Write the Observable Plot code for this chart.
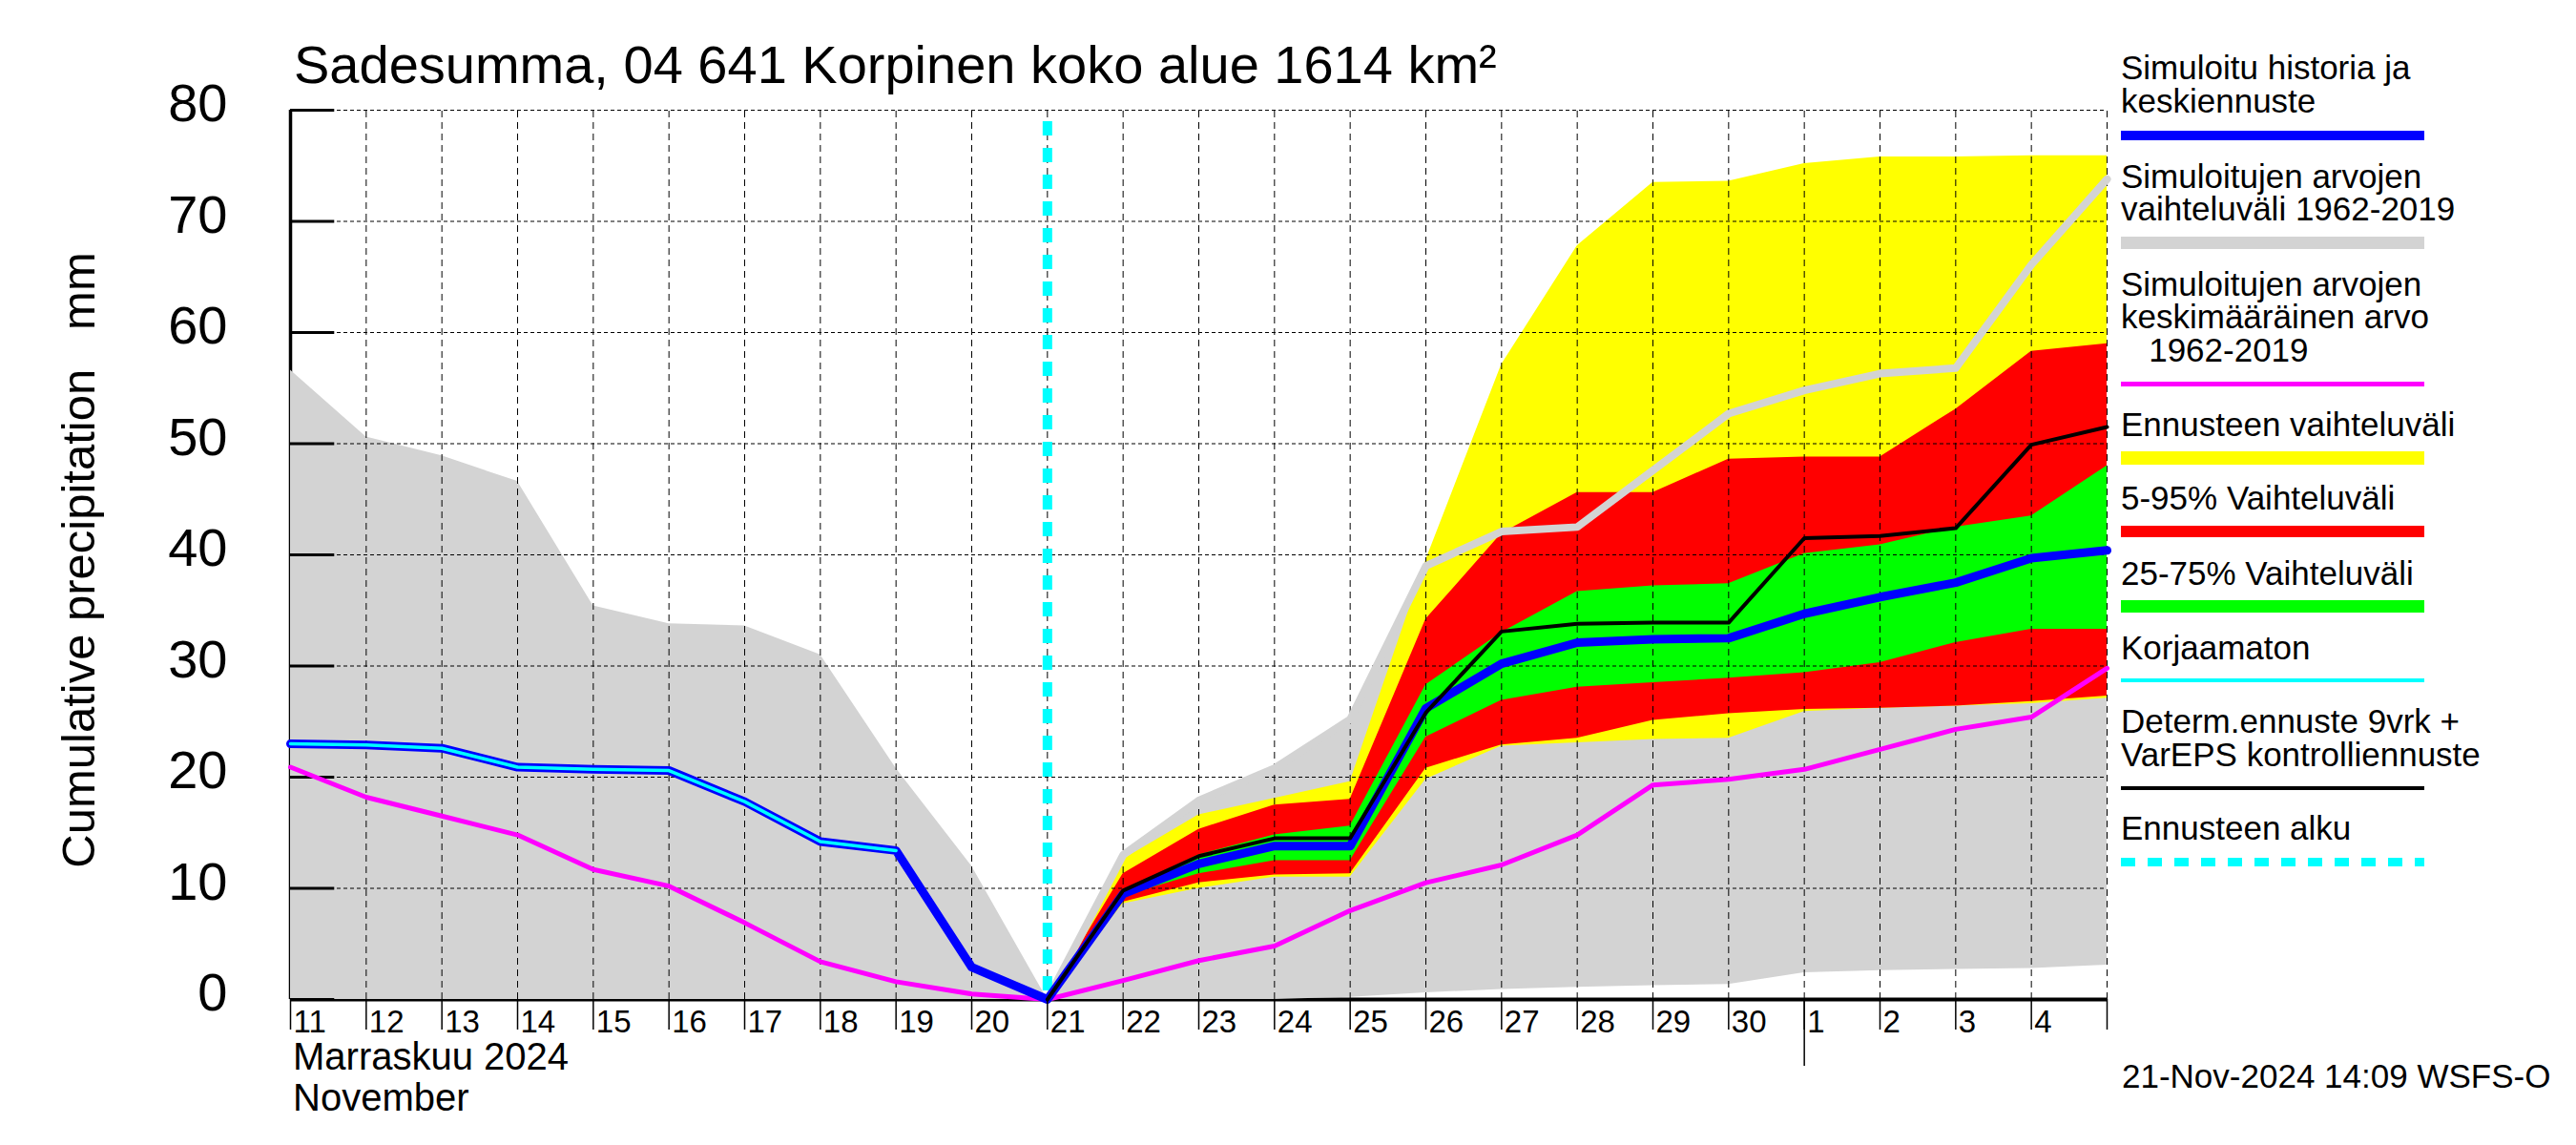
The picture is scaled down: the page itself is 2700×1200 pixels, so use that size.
<!DOCTYPE html>
<html>
<head>
<meta charset="utf-8">
<script src="https://cdn.jsdelivr.net/npm/d3@7"></script>
<script src="https://cdn.jsdelivr.net/npm/@observablehq/plot@0.6"></script>
<style>
  html, body { margin: 0; padding: 0; background: white; }
  #chart { width: 2700px; height: 1200px; }
  svg text { white-space: pre; }
</style>
</head>
<body>
<div id="chart"></div>
<script>
// ---------- DATA ----------
const firstDay = "2024-11-11";
const lastDay = "2024-12-05";
const yTicks = [0, 10, 20, 30, 40, 50, 60, 70, 80];

// Nov 11 .. Dec 5 (25 days)
const grayLow  = [0, 0, 0, 0, 0, 0, 0, 0, 0, 0, 0, 0, 0, 0, 0.2, 0.6, 0.9, 1.1, 1.25, 1.35, 2.4, 2.6, 2.7, 2.8, 3.1];
const grayHigh = [56.6, 50.6, 48.9, 46.6, 35.4, 33.8, 33.6, 31.0, 20.8, 12.0, 0, 13.0, 17.9, 20.8, 25.2, 39.0, 42.1, 42.5, 47.6, 52.7, 54.8, 56.3, 56.8, 66.1, 73.8];
const meanValue = [20.9, 18.2, 16.5, 14.8, 11.7, 10.2, 6.9, 3.4, 1.6, 0.5, 0, 1.7, 3.5, 4.8, 8.0, 10.5, 12.1, 14.8, 19.3, 19.8, 20.7, 22.5, 24.3, 25.4, 29.8];

// Nov 11 .. Nov 21 simulated history
const simHistory = [23.0, 22.9, 22.6, 20.9, 20.7, 20.6, 17.8, 14.2, 13.4, 2.9, 0];
// Nov 11 .. Nov 19 uncorrected
const korjaamaton = [23.0, 22.9, 22.6, 20.9, 20.7, 20.6, 17.8, 14.2, 13.4];

// Nov 21 .. Dec 5 forecast
const yellowLow  = [0, 8.6, 10.0, 11.0, 11.0, 19.8, 22.8, 23.1, 23.4, 23.5, 25.9, 26.2, 26.4, 26.6, 27.1];
const yellowHigh = [0, 12.6, 16.6, 18.1, 19.6, 39.5, 57.1, 67.8, 73.5, 73.6, 75.2, 75.8, 75.8, 75.9, 75.9];
const redLow     = [0, 8.75, 10.5, 11.2, 11.3, 20.8, 22.9, 23.5, 25.1, 25.7, 26.1, 26.2, 26.4, 26.8, 27.3];
const redHigh    = [0, 11.3, 15.3, 17.5, 18.0, 34.2, 41.9, 45.6, 45.6, 48.6, 48.8, 48.8, 53.1, 58.3, 59.0];
const greenLow   = [0, 9.3, 11.3, 12.5, 12.5, 23.6, 26.9, 28.1, 28.5, 28.9, 29.4, 30.3, 32.1, 33.3, 33.3];
const greenHigh  = [0, 9.8, 13.0, 14.8, 15.6, 28.3, 33.0, 36.7, 37.2, 37.4, 40.1, 40.9, 42.5, 43.5, 48.0];
const medianForecast = [0, 9.5, 12.2, 13.8, 13.8, 26.2, 30.2, 32.1, 32.4, 32.5, 34.7, 36.2, 37.5, 39.7, 40.4];
const determForecast = [0, 9.8, 12.9, 14.5, 14.5, 25.8, 33.1, 33.8, 33.9, 33.9, 41.5, 41.7, 42.4, 49.9, 51.5];

const titleText = "Sadesumma, 04 641 Korpinen koko alue 1614 km²";
const yLabelText = "Cumulative precipitation   mm";
const monthLabels = ["Marraskuu 2024", "November"];
const stampText = "21-Nov-2024 14:09 WSFS-O";
const legendLabels = [
  ["Simuloitu historia ja", "keskiennuste"],
  ["Simuloitujen arvojen", "vaihteluväli 1962-2019"],
  ["Simuloitujen arvojen", "keskimääräinen arvo", "   1962-2019"],
  ["Ennusteen vaihteluväli"],
  ["5-95% Vaihteluväli"],
  ["25-75% Vaihteluväli"],
  ["Korjaamaton"],
  ["Determ.ennuste 9vrk +", "VarEPS kontrolliennuste"],
  ["Ennusteen alku"]
];
const legendColors = ["#0000ff", "#d3d3d3", "#ff00ff", "#ffff00", "#ff0000", "#00ff00", "#00ffff", "#000000", "#00ffff"];

// ---------- BUILD ----------
const days = d3.utcDay.range(new Date(firstDay), d3.utcDay.offset(new Date(lastDay), 1));
const fcStart = 10;
const fcDays = days.slice(fcStart);

const allRows = days.map((d, i) => ({date: d, gLo: grayLow[i], gHi: grayHigh[i], mean: meanValue[i]}));
const fcRows = fcDays.map((d, i) => ({
  date: d, yLo: yellowLow[i], yHi: yellowHigh[i], rLo: redLow[i], rHi: redHigh[i],
  gnLo: greenLow[i], gnHi: greenHigh[i], med: medianForecast[i], det: determForecast[i], gHi: grayHigh[fcStart + i]
}));
const blueRows = simHistory.map((v, i) => ({date: days[i], v}))
  .concat(medianForecast.slice(1).map((v, i) => ({date: fcDays[i + 1], v})));
const korjRows = korjaamaton.map((v, i) => ({date: days[i], v}));

const font = "Liberation Sans, Arial, Helvetica, sans-serif";
const x0 = days[0], x1 = days[days.length - 1];

const svg = Plot.plot({
  width: 2700,
  height: 1200,
  marginLeft: 304,
  marginRight: 492,
  marginTop: 115,
  marginBottom: 153,
  style: {fontFamily: font, background: "white", color: "black", overflow: "visible"},
  x: {type: "utc", domain: [x0, x1]},
  y: {domain: [0, 80]},
  marks: [
    Plot.ruleY([0], {x1: x0, x2: x1, stroke: "black", strokeWidth: 4}),
    Plot.ruleX([x0], {y1: 0, y2: 80, stroke: "black", strokeWidth: 3.5}),
    Plot.areaY(allRows, {x: "date", y1: "gLo", y2: "gHi", fill: "#d3d3d3"}),
    Plot.areaY(fcRows, {x: "date", y1: "yLo", y2: "yHi", fill: "#ffff00"}),
    Plot.areaY(fcRows, {x: "date", y1: "rLo", y2: "rHi", fill: "#ff0000"}),
    Plot.areaY(fcRows, {x: "date", y1: "gnLo", y2: "gnHi", fill: "#00ff00"}),
    Plot.ruleX(days.slice(1), {y1: 0, y2: 80, stroke: "black", strokeWidth: 1, strokeDasharray: "7,5"}),
    Plot.ruleY(yTicks.slice(1), {x1: x0, x2: x1, stroke: "black", strokeWidth: 1.2, strokeDasharray: "4,3"}),
    Plot.ruleY(yTicks, {x1: x0, x2: d3.utcHour.offset(x0, 14), stroke: "black", strokeWidth: 3}),
    Plot.line(fcRows, {x: "date", y: "gHi", stroke: "#d3d3d3", strokeWidth: 8}),
    Plot.line(allRows, {x: "date", y: "mean", stroke: "#ff00ff", strokeWidth: 5}),
    Plot.ruleX([days[fcStart]], {y1: 80, y2: 0, stroke: "#00ffff", strokeWidth: 10, strokeDasharray: "15,13", strokeDashoffset: 16}),
    Plot.line(blueRows, {x: "date", y: "v", stroke: "#0000ff", strokeWidth: 9}),
    Plot.line(korjRows, {x: "date", y: "v", stroke: "#00ffff", strokeWidth: 3.5}),
    Plot.line(fcRows, {x: "date", y: "det", stroke: "#000000", strokeWidth: 4}),
    Plot.axisX({ticks: days, tickSize: 32, fill: "none", stroke: "black", strokeWidth: 1.5, label: null}),
    Plot.axisX({ticks: [days[20]], tickSize: 70, fill: "none", stroke: "black", strokeWidth: 1.5, label: null}),
    Plot.axisX({ticks: days.slice(0, days.length - 1), tickSize: 0, tickPadding: 11, tickFormat: d3.utcFormat("%-d"),
      textAnchor: "start", dx: 3, fontSize: 33, stroke: "none", label: null}),
    Plot.axisY({ticks: yTicks, tickSize: 0, tickPadding: 66, fontSize: 56, dy: -6, stroke: "none", label: null})
  ]
});

const s = d3.select(svg);
const addText = (x, y, size, t) => s.append("text").attr("x", x).attr("y", y)
  .attr("font-size", size).attr("font-family", font).attr("text-anchor", "start").attr("fill", "black").text(t);
addText(308, 87, 56, titleText);
s.append("text").attr("transform", "translate(99,587) rotate(-90)").attr("text-anchor", "middle")
  .attr("font-size", 49).attr("font-family", font).attr("fill", "black").text(yLabelText);
addText(307, 1121, 40, monthLabels[0]);
addText(307, 1164, 40, monthLabels[1]);
addText(2224, 1140, 35, stampText);

// legend layout
const legTextY = [[83, 118], [197, 231], [310, 344, 379], [457], [534], [613], [691], [768, 803], [880]];
const legSwatch = [[142, 10], [254.5, 13], [402.5, 5], [480, 14], [557, 12], [635.5, 13], [713, 4], [826, 4], [903.5, 9]];
legendLabels.forEach((lines, k) => {
  lines.forEach((t, j) => addText(2223, legTextY[k][j], 35, t));
  const line = s.append("line").attr("x1", 2223).attr("x2", 2541)
    .attr("y1", legSwatch[k][0]).attr("y2", legSwatch[k][0])
    .attr("stroke", legendColors[k]).attr("stroke-width", legSwatch[k][1]);
  if (k === 8) line.attr("stroke-dasharray", "15,13");
});

document.getElementById("chart").appendChild(svg);
</script>
</body>
</html>
